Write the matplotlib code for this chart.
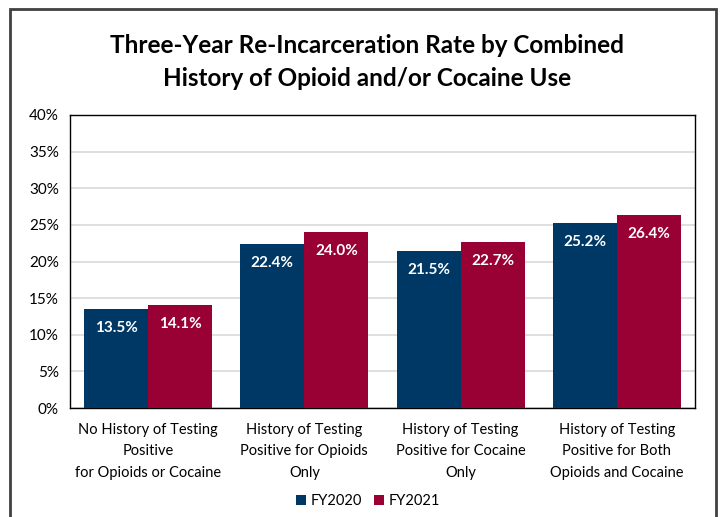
import matplotlib
matplotlib.use("Agg")
import matplotlib.pyplot as plt
import numpy as np
from matplotlib.patches import Rectangle

categories = ["No History of Testing\nPositive\nfor Opioids or Cocaine",
              "History of Testing\nPositive for Opioids\nOnly",
              "History of Testing\nPositive for Cocaine\nOnly",
              "History of Testing\nPositive for Both\nOpioids and Cocaine"]
fy2020 = [13.5, 22.4, 21.5, 25.2]
fy2021 = [14.1, 24.0, 22.7, 26.4]
series_names = ["FY2020", "FY2021"]
colors = ["#003865", "#990033"]
yticks = [0, 5, 10, 15, 20, 25, 30, 35, 40]

plt.rcParams['font.family'] = ['Lato', 'DejaVu Sans']

fig = plt.figure(figsize=(7.2, 5.17), dpi=100)
ax = fig.add_axes([70/720, 1-408/517, 625/720, 293/517])

x = np.arange(len(categories))
w = 0.41
b1 = ax.bar(x - w/2, fy2020, w, color=colors[0], label=series_names[0], zorder=3)
b2 = ax.bar(x + w/2, fy2021, w, color=colors[1], label=series_names[1], zorder=3)

for bars, vals in ((b1, fy2020), (b2, fy2021)):
    for rect, v in zip(bars, vals):
        ax.annotate(f"{v:.1f}%", (rect.get_x() + rect.get_width()/2, v),
                    xytext=(0, -19), textcoords="offset pixels",
                    ha="center", va="center", color="white", fontsize=11,
                    fontweight="bold", zorder=4)

ax.set_xlim(-0.5, len(categories) - 0.5)
ax.set_ylim(0, 40)
ax.set_yticks(yticks)
ax.set_yticklabels([f"{t}%" for t in yticks], fontsize=11)
ax.set_xticks(x)
ax.set_xticklabels(categories, fontsize=10.5, linespacing=1.65)
ax.tick_params(axis='both', length=0, pad=8)
ax.tick_params(axis='x', pad=11)
ax.grid(axis='y', color='#d9d9d9', linewidth=1.2, zorder=0)
for s in ax.spines.values():
    s.set_color('black')
    s.set_linewidth(1.0)

fig.text(367/720, 1-62/517,
         "Three-Year Re-Incarceration Rate by Combined\nHistory of Opioid and/or Cocaine Use",
         ha="center", va="center", fontsize=17.5, fontweight="bold", linespacing=1.55)

leg = fig.legend(handles=[b1, b2], labels=series_names, loc="center",
                 bbox_to_anchor=(368/720, 1-501/517), ncol=2, frameon=False,
                 fontsize=10.5, handlelength=0.7, handleheight=0.7,
                 handletextpad=0.3, columnspacing=0.8)

fig.patches.append(Rectangle((10/720, -0.05), 706/720, 1.05 - 9/517,
                             transform=fig.transFigure, fill=False,
                             edgecolor='#404040', linewidth=2.0))

fig.savefig("out.png", dpi=100)
